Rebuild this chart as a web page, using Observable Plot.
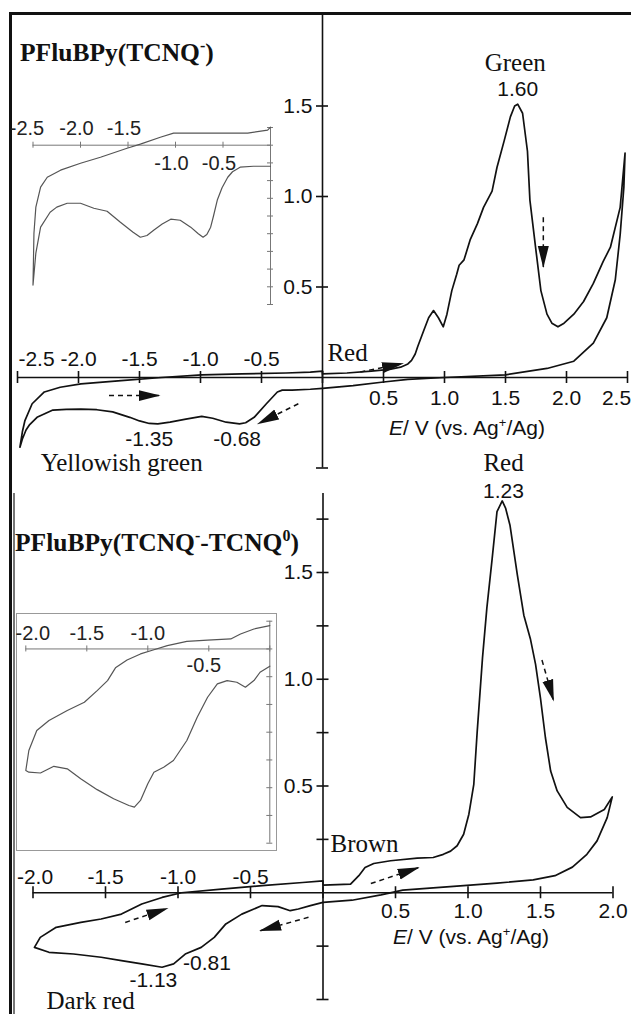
<!DOCTYPE html>
<html>
<head>
<meta charset="utf-8">
<script src="https://cdn.jsdelivr.net/npm/d3@7"></script>
<script src="https://cdn.jsdelivr.net/npm/@observablehq/plot@0.6"></script>
<style>
  body { margin: 0; background: #fff; }
  #wrap { position: relative; width: 631px; height: 1014px; background: #fff; overflow: hidden; }
  .abs { position: absolute; }
  .title { font-family: "Liberation Serif", "Times New Roman", serif; font-weight: bold; font-size: 25.5px; line-height: 26px; color: #111; white-space: nowrap; }
  .title sup { font-size: 16px; vertical-align: 10px; line-height: 0; }
  .axt { font-family: "Liberation Sans", Arial, sans-serif; font-size: 21px; line-height: 22px; color: #111; white-space: nowrap; transform: translate(-50%, -50%); }
  .axt sup { font-size: 13px; vertical-align: 8px; line-height: 0; }
</style>
</head>
<body>
<div id="wrap"></div>
<script>
// ---------------- data ----------------
// Top panel: PFluBPy(TCNQ-) main CV, [E (V), I (arb.)]
const topCV = [
  [0,0.02],[0.2,0.025],[0.4,0.035],[0.55,0.045],[0.64,0.057],[0.70,0.075],[0.73,0.095],[0.76,0.13],[0.78,0.17],[0.83,0.26],
  [0.87,0.33],[0.91,0.37],[0.95,0.33],[0.99,0.28],[1.02,0.35],[1.06,0.48],[1.10,0.57],[1.12,0.62],[1.16,0.65],[1.21,0.76],
  [1.27,0.85],[1.32,0.94],[1.39,1.03],[1.43,1.16],[1.49,1.31],[1.54,1.44],[1.575,1.50],[1.60,1.51],[1.64,1.46],[1.68,1.25],
  [1.70,0.98],[1.75,0.70],[1.79,0.48],[1.84,0.35],[1.88,0.30],[1.93,0.28],[1.98,0.30],[2.06,0.35],[2.14,0.42],[2.22,0.52],
  [2.30,0.64],[2.36,0.72],[2.44,0.94],[2.48,1.24],
  [2.47,1.05],[2.44,0.79],[2.40,0.54],[2.33,0.33],[2.22,0.19],[2.06,0.09],[1.84,0.05],[1.5,0.015],[1.0,0.0],[0.7,-0.01],
  [0.5,-0.025],[0.25,-0.045],[0,-0.06],
  [-0.1,-0.065],[-0.25,-0.07],[-0.33,-0.07],[-0.37,-0.08],[-0.46,-0.145],[-0.56,-0.22],[-0.63,-0.25],[-0.68,-0.256],[-0.79,-0.247],
  [-0.90,-0.225],[-0.99,-0.215],[-1.12,-0.23],[-1.25,-0.247],[-1.35,-0.256],[-1.42,-0.254],[-1.50,-0.24],[-1.58,-0.22],[-1.72,-0.19],[-1.85,-0.178],
  [-1.98,-0.175],[-2.10,-0.176],[-2.21,-0.18],[-2.34,-0.22],[-2.40,-0.26],[-2.43,-0.29],[-2.46,-0.34],[-2.48,-0.385],
  [-2.46,-0.30],[-2.44,-0.24],[-2.38,-0.145],[-2.28,-0.08],[-2.15,-0.054],[-1.98,-0.035],[-1.65,-0.017],[-1.32,0.0],[-0.99,0.015],
  [-0.66,0.02],[-0.30,0.025],[-0.10,0.03],[0,0.035],[0,0.02]
];
// Top inset (cathodic region, enlarged), [E (V), I (arb. units)]
const topInset = [
  [0,-1.19],[-0.18,-1.19],[-0.32,-1.24],[-0.40,-1.5],[-0.45,-1.81],[-0.51,-2.4],[-0.56,-3.1],[-0.60,-4.0],[-0.63,-4.63],[-0.67,-5.05],
  [-0.71,-5.2],[-0.76,-5.0],[-0.84,-4.63],[-0.95,-4.24],[-1.05,-4.18],[-1.14,-4.45],[-1.23,-4.8],[-1.30,-5.1],[-1.37,-5.2],[-1.45,-4.9],
  [-1.58,-4.35],[-1.72,-3.73],[-1.86,-3.56],[-2.0,-3.28],[-2.14,-3.28],[-2.25,-3.5],[-2.32,-3.79],[-2.42,-4.63],[-2.47,-6.1],[-2.5,-7.9],
  [-2.49,-4.97],[-2.47,-3.5],[-2.42,-2.37],[-2.35,-1.81],[-2.21,-1.41],[-2.0,-1.02],[-1.79,-0.68],[-1.51,-0.17],[-1.37,0.06],[-1.16,0.45],
  [-1.02,0.68],[-0.74,0.68],[-0.45,0.68],[-0.24,0.68],[-0.03,0.85],[0,1.02]
];
// Bottom panel: PFluBPy(TCNQ- - TCNQ0) main CV
const botCV = [
  [0,0.036],[0.05,0.037],[0.19,0.04],[0.247,0.08],[0.29,0.118],[0.35,0.137],[0.466,0.15],[0.65,0.162],[0.76,0.165],[0.83,0.18],
  [0.88,0.195],[0.925,0.22],[0.97,0.274],[1.006,0.368],[1.04,0.508],[1.063,0.75],[1.10,1.10],[1.13,1.333],[1.167,1.567],[1.20,1.785],
  [1.236,1.835],[1.26,1.80],[1.29,1.72],[1.34,1.49],[1.385,1.30],[1.43,1.19],[1.466,1.07],[1.50,0.91],[1.534,0.726],[1.57,0.57],
  [1.615,0.477],[1.684,0.40],[1.776,0.352],[1.845,0.355],[1.94,0.39],[1.995,0.449],
  [1.96,0.352],[1.89,0.243],[1.82,0.18],[1.72,0.12],[1.60,0.08],[1.45,0.06],[1.2,0.045],[0.97,0.033],[0.55,0.012],[0.4,-0.01],[0.2,-0.035],[0,-0.045],
  [-0.087,-0.06],[-0.17,-0.076],[-0.226,-0.084],[-0.31,-0.065],[-0.42,-0.06],[-0.56,-0.10],[-0.67,-0.146],[-0.75,-0.209],[-0.84,-0.256],
  [-0.95,-0.287],[-1.03,-0.333],[-1.11,-0.349],[-1.25,-0.333],[-1.39,-0.318],[-1.53,-0.302],[-1.72,-0.287],[-1.89,-0.279],[-1.99,-0.256],
  [-1.95,-0.209],[-1.84,-0.162],[-1.67,-0.139],[-1.53,-0.123],[-1.39,-0.10],[-1.25,-0.053],[-1.11,-0.022],[-0.976,0.0],[-0.70,0.017],
  [-0.42,0.033],[-0.14,0.048],[0,0.056],[0,0.036]
];
// Bottom inset
const botInset = [
  [0,-0.62],[-0.08,-0.84],[-0.13,-1.14],[-0.2,-1.38],[-0.27,-1.2],[-0.35,-1.14],[-0.43,-1.26],[-0.51,-1.74],[-0.595,-2.46],[-0.68,-3.3],
  [-0.79,-4.02],[-0.87,-4.26],[-0.95,-4.44],[-1.0,-4.86],[-1.06,-5.46],[-1.11,-5.7],[-1.155,-5.64],[-1.28,-5.4],[-1.415,-5.07],[-1.55,-4.68],
  [-1.66,-4.32],[-1.77,-4.23],[-1.88,-4.47],[-1.975,-4.44],[-2.0,-4.38],
  [-1.975,-3.66],[-1.91,-2.94],[-1.81,-2.58],[-1.66,-2.22],[-1.52,-1.92],[-1.415,-1.5],[-1.33,-1.14],[-1.265,-0.68],[-1.17,-0.40],
  [-1.06,-0.18],[-0.95,-0.03],[-0.84,0.12],[-0.68,0.27],[-0.51,0.32],[-0.32,0.36],[-0.24,0.54],[-0.13,0.72],[0,0.84]
];

// tick values
const topXTicks = [-2.5,-2.0,-1.5,-1.0,-0.5,0,0.5,1.0,1.5,2.0,2.5];
const topXLabelsNeg = [-2.5,-2.0,-1.5,-1.0,-0.5];
const topXLabelsPos = [0.5,1.0,1.5,2.0,2.5];
const topYTicks = [-0.5,0.5,1.0,1.5];
const topYLabels = [0.5,1.0,1.5];
const botXTicks = [-2.0,-1.5,-1.0,-0.5,0,0.5,1.0,1.5,2.0];
const botXLabelsNeg = [-2.0,-1.5,-1.0,-0.5];
const botXLabelsPos = [0.5,1.0,1.5,2.0];
const botYTicks = [-0.5,-0.25,0.25,0.5,0.75,1.0,1.25,1.5,1.75];
const botYLabels = [0.5,1.0,1.5];
const inset1XTicks = [-2.5,-2.0,-1.5,-1.0,-0.5,0];
const inset1XLabelsUp = [-2.5,-2.0,-1.5];
const inset1XLabelsDown = [-1.0,-0.5];
const inset1YTicks = [1,0,-1,-2,-3,-4,-5,-6,-7,-8,-9];
const inset2XTicks = [-2.0,-1.5,-1.0,-0.5,0];
const inset2XLabelsUp = [-2.0,-1.5,-1.0];
const inset2XLabelsDown = [-0.5];
const inset2YTicks = [1,0,-1,-2,-3,-4,-5,-6,-7];

// annotations: [text, E, I]
const topSerifLabels = [["Green",1.58,1.735]];
const topSerifStart = [["Red",0.04,0.133],["Yellowish green",-2.31,-0.475]];
const topSansLabels = [["1.60",1.60,1.59],["-1.35",-1.42,-0.342],["-0.68",-0.70,-0.342]];
const botSerifLabels = [["Red",1.245,2.015]];
const botSerifStart = [["Brown",0.052,0.229],["Dark red",-1.907,-0.505]];
const botSansLabels = [["1.23",1.245,1.88],["-0.81",-0.80,-0.33],["-1.13",-1.17,-0.41]];

// arrows: [E1, I1, E2, I2]
const topArrows = [[-1.75,-0.10,-1.336,-0.10],[-0.198,-0.145,-0.529,-0.256],[0.31,0.03,0.66,0.077],[1.81,0.886,1.81,0.61]];
const botArrows = [[0.33,0.043,0.66,0.118],[1.51,1.09,1.59,0.90],[-1.364,-0.139,-1.072,-0.073],[-0.10,-0.115,-0.434,-0.178]];

// ---------------- drawing ----------------
const SANS = "Liberation Sans, Arial, Helvetica, sans-serif";
const SERIF = "Liberation Serif, Times New Roman, serif";
const INK = "#111";
const fmt = d => d.toFixed(1);
const wrap = document.getElementById("wrap");

function place(el, left, top) {
  el.style.position = "absolute";
  el.style.left = left + "px";
  el.style.top = top + "px";
  el.style.background = "transparent";
  el.style.overflow = "visible";
  el.style.maxWidth = "none";
  wrap.appendChild(el);
  return el;
}
function addArrowHeads(svg, id) {
  const s = d3.select(svg);
  const defs = s.insert("defs", ":first-child");
  defs.append("marker").attr("id", id)
    .attr("viewBox", "0 0 22 12").attr("refX", 21).attr("refY", 6)
    .attr("markerWidth", 22).attr("markerHeight", 12)
    .attr("markerUnits", "userSpaceOnUse").attr("orient", "auto")
    .append("path").attr("d", "M0,0.5L22,6L0,11.5Z").attr("fill", INK);
  s.selectAll('g[aria-label="link"] path, g[aria-label="link"] line').attr("marker-end", `url(#${id})`);
}
// one text mark per tick label so each can carry its own constant nudge
function tickLabels(values, opts, nudge, size, fill) {
  return values.map(v => Plot.text([v], {x: d => d, y: 0, text: fmt, dy: opts.dy, dx: nudge(v), fontFamily: SANS, fontSize: size, fill}));
}

function mainPanel(cfg) {
  const {width, height, mL, mR, mT, mB, xd, yd, cv, xTicks, xNeg, xPos, yTicks, yLabels, arrows, serifC, serifS, sans, dyNeg, dyPos, lblDx} = cfg;
  const pxX = (width - mL - mR) / (xd[1] - xd[0]);
  const pxY = (height - mT - mB) / (yd[1] - yd[0]);
  const tx = 6 / pxY, ty = 6 / pxX;
  return Plot.plot({
    width, height, marginLeft: mL, marginRight: mR, marginTop: mT, marginBottom: mB,
    x: {domain: xd, axis: null},
    y: {domain: yd, axis: null},
    marks: [
      Plot.ruleY([0], {x1: xd[0], x2: xd[1], stroke: INK, strokeWidth: 1.6}),
      Plot.ruleX([0], {y1: yd[0], y2: yd[1], stroke: INK, strokeWidth: 1.6}),
      Plot.ruleX(xTicks, {x: d => d, y1: -tx, y2: tx, stroke: INK, strokeWidth: 1.6}),
      Plot.ruleY(yTicks, {y: d => d, x1: -ty, x2: ty, stroke: INK, strokeWidth: 1.6}),
      ...tickLabels(xNeg, {dy: dyNeg}, lblDx, 21, INK),
      ...tickLabels(xPos, {dy: dyPos}, lblDx, 21, INK),
      Plot.text(yLabels, {x: 0, y: d => d, text: fmt, textAnchor: "end", dx: -10, fontFamily: SANS, fontSize: 21, fill: INK}),
      Plot.line(cv, {x: d => d[0], y: d => d[1], stroke: INK, strokeWidth: 1.7, strokeLinejoin: "round"}),
      Plot.link(arrows, {x1: d => d[0], y1: d => d[1], x2: d => d[2], y2: d => d[3], stroke: INK, strokeWidth: 1.5, strokeDasharray: "5,4"}),
      Plot.text(serifC, {x: d => d[1], y: d => d[2], text: d => d[0], fontFamily: SERIF, fontSize: 25, fill: INK}),
      Plot.text(serifS, {x: d => d[1], y: d => d[2], text: d => d[0], textAnchor: "start", fontFamily: SERIF, fontSize: 25, fill: INK}),
      Plot.text(sans, {x: d => d[1], y: d => d[2], text: d => d[0], fontFamily: SANS, fontSize: 21, fill: INK})
    ]
  });
}

function insetPanel(cfg) {
  const {width, height, mL, mR, mT, mB, xd, yd, cv, xTicks, xUp, xDown, yTicks, dyUp, dyDown, lblDx} = cfg;
  const pxX = (width - mL - mR) / (xd[1] - xd[0]);
  const pxY = (height - mT - mB) / (yd[1] - yd[0]);
  const tx = 3 / pxY, ty = 3 / pxX;
  const G = "#777";
  return Plot.plot({
    width, height, marginLeft: mL, marginRight: mR, marginTop: mT, marginBottom: mB,
    x: {domain: xd, axis: null},
    y: {domain: yd, axis: null},
    marks: [
      Plot.ruleY([0], {x1: xd[0], x2: xd[1], stroke: G, strokeWidth: 1}),
      Plot.ruleX([0], {y1: yd[0], y2: yd[1], stroke: G, strokeWidth: 1}),
      Plot.ruleX(xTicks, {x: d => d, y1: -tx, y2: tx, stroke: G, strokeWidth: 1}),
      Plot.ruleY(yTicks, {y: d => d, x1: -ty, x2: ty, stroke: G, strokeWidth: 1}),
      ...tickLabels(xUp, {dy: dyUp}, lblDx, 20, "#222"),
      ...tickLabels(xDown, {dy: dyDown}, lblDx, 20, "#222"),
      Plot.line(cv, {x: d => d[0], y: d => d[1], stroke: "#555", strokeWidth: 1.2, strokeLinejoin: "round"})
    ]
  });
}

// frame lines
const frameTop = document.createElement("div");
frameTop.className = "abs"; Object.assign(frameTop.style, {left: "9px", top: "12px", width: "622px", height: "3px", background: "#111"});
wrap.appendChild(frameTop);
const frameLeft = document.createElement("div");
frameLeft.className = "abs"; Object.assign(frameLeft.style, {left: "9px", top: "12px", width: "3px", height: "1002px", background: "#111"});
wrap.appendChild(frameLeft);
const frameLeft2 = document.createElement("div");
frameLeft2.className = "abs"; Object.assign(frameLeft2.style, {left: "13px", top: "493px", width: "1.5px", height: "521px", background: "#777"});
wrap.appendChild(frameLeft2);

// top main
const topSvg = mainPanel({
  width: 631, height: 490, mL: 17, mR: 4, mT: 15, mB: 22.5,
  xd: [-2.5, 2.5], yd: [-0.5, 2.0], cv: topCV,
  xTicks: topXTicks, xNeg: topXLabelsNeg, xPos: topXLabelsPos, yTicks: topYTicks, yLabels: topYLabels,
  arrows: topArrows, serifC: topSerifLabels, serifS: topSerifStart, sans: topSansLabels,
  dyNeg: -18, dyPos: 21, lblDx: d => d === -2.5 ? 19 : d === 2.5 ? -11 : 0
});
place(topSvg, 0, 0);
addArrowHeads(topSvg, "ahTop");

// bottom main
const botSvg = mainPanel({
  width: 631, height: 574, mL: 32.5, mR: 18.5, mT: 53, mB: 15,
  xd: [-2.0, 2.0], yd: [-0.5, 1.87], cv: botCV,
  xTicks: botXTicks, xNeg: botXLabelsNeg, xPos: botXLabelsPos, yTicks: botYTicks, yLabels: botYLabels,
  arrows: botArrows, serifC: botSerifLabels, serifS: botSerifStart, sans: botSansLabels,
  dyNeg: -15, dyPos: 19, lblDx: d => d === -2.0 ? 2 : 0
});
place(botSvg, 0, 440);
addArrowHeads(botSvg, "ahBot");

// top inset
const in1 = insetPanel({
  width: 290, height: 220, mL: 32.5, mR: 20, mT: 27, mB: 16,
  xd: [-2.5, 0], yd: [-9, 1], cv: topInset,
  xTicks: inset1XTicks, xUp: inset1XLabelsUp, xDown: inset1XLabelsDown, yTicks: inset1YTicks,
  dyUp: -17, dyDown: 18, lblDx: d => d === -2.5 ? -6 : -4
});
place(in1, 0, 100);

// bottom inset box + plot
const box = document.createElement("div");
box.className = "abs";
Object.assign(box.style, {left: "16px", top: "613px", width: "261px", height: "238px", border: "1px solid #999", boxSizing: "border-box"});
wrap.appendChild(box);
const in2 = insetPanel({
  width: 261, height: 238, mL: 9.3, mR: 7.7, mT: 7.7, mB: 8.3,
  xd: [-2.0, 0], yd: [-7, 1], cv: botInset,
  xTicks: inset2XTicks, xUp: inset2XLabelsUp, xDown: inset2XLabelsDown, yTicks: inset2YTicks,
  dyUp: -15, dyDown: 17, lblDx: d => d === -2.0 ? 7 : d === -0.5 ? -5 : 0
});
place(in2, 16, 613);

// titles and axis titles (rich text)
function html(cls, left, top, inner) {
  const d = document.createElement("div");
  d.className = "abs " + cls;
  d.style.left = left + "px"; d.style.top = top + "px";
  d.innerHTML = inner;
  wrap.appendChild(d);
}
html("title", 20, 40, "PFluBPy(TCNQ<sup>-</sup>)");
html("title", 15, 530, "PFluBPy(TCNQ<sup>-</sup>-TCNQ<sup>0</sup>)");
html("axt", 467, 428, "<i>E</i>/ V (vs. Ag<sup>+</sup>/Ag)");
html("axt", 471, 937, "<i>E</i>/ V (vs. Ag<sup>+</sup>/Ag)");
</script>
</body>
</html>
